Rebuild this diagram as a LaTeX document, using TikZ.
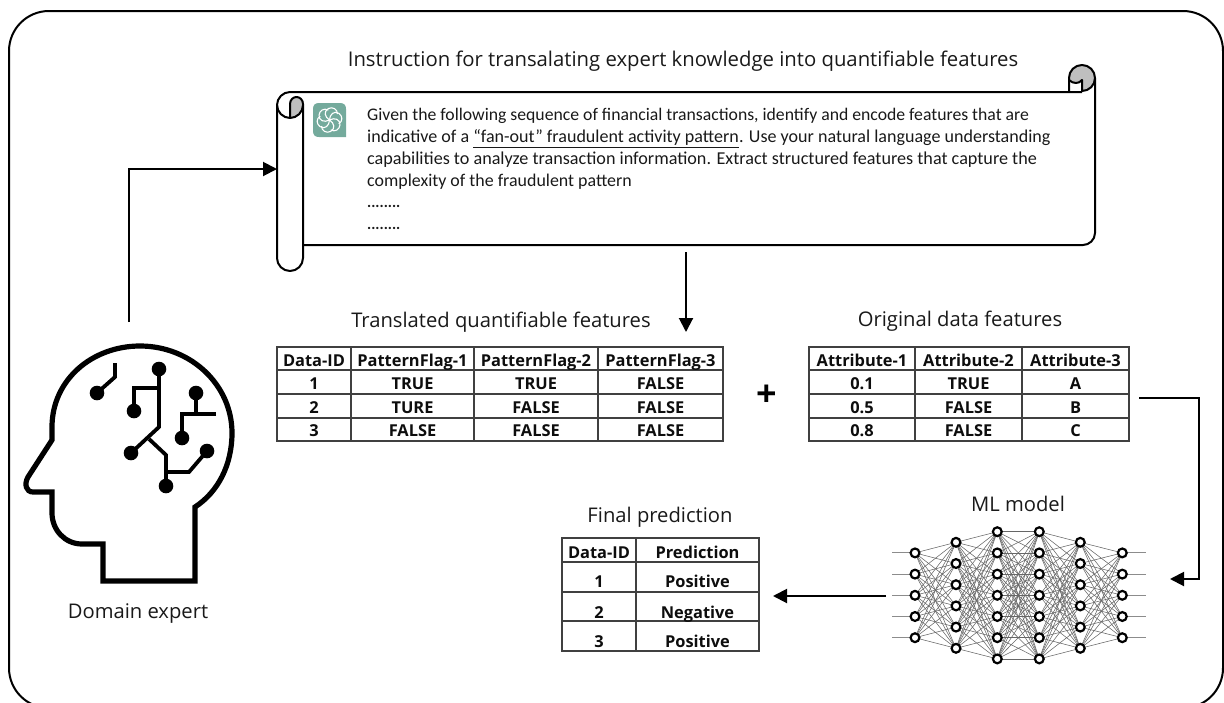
\documentclass[tikz,border=0pt]{standalone}
\usepackage{fontspec}
\setmainfont{Carlito}
\newfontfamily\labfont{Open Sans}
\usetikzlibrary{arrows.meta,backgrounds}
\definecolor{gptgreen}{HTML}{74AA9C}
\tikzset{
  x=1pt,y=-1pt,
  frameline/.style={draw=black,line width=2pt},
  scrollline/.style={draw=black,line width=2pt,line join=round},
  conn/.style={draw=black,line width=2pt,-{Triangle[length=14pt,width=14pt]}},
  heading/.style={anchor=base,inner sep=0pt,font=\labfont\fontsize{20.2}{22}\selectfont,text=black!90},
  title/.style={anchor=base,inner sep=0pt,font=\labfont\fontsize{20.3}{22}\selectfont,text=black!90},
  body/.style={anchor=base west,inner sep=0pt,font=\fontsize{17.7}{20}\selectfont,text=black!90},
  tc/.style={anchor=base,inner sep=0pt,font=\labfont\bfseries\fontsize{16.4}{18}\selectfont,text=black!95},
  grid/.style={draw=black!75,line width=1.5pt},
  headline/.style={draw=black,line width=5.2pt,line join=miter},
  circuit/.style={draw=black,line width=3.8pt,line join=miter},
  nn/.style={circle,draw=black,fill=white,line width=2.2pt,minimum size=8.8pt,inner sep=0pt},
  nnedge/.style={draw=black!60,line width=0.55pt},
}
\begin{document}
\begin{tikzpicture}
\useasboundingbox (0,0) rectangle (1224,702);
\clip (0,0) rectangle (1224,702);
% outer frame
\draw[frameline,rounded corners=40pt] (9,11) rectangle (1223,708);

% scroll
\path[fill=black!25] (1069,78) .. controls (1069,70.8) and (1074.8,65) .. (1082,65)
  .. controls (1089.2,65) and (1095,70.8) .. (1095,78)
  .. controls (1095,85.2) and (1089.2,91) .. (1082,91) -- (1082,80)
  .. controls (1079,84) and (1073,84) .. (1069,78) -- cycle;
\path[fill=black!25] (290,117) -- (290,104) .. controls (290,100) and (293,97) .. (296.5,97)
  .. controls (300,97) and (303,100) .. (303,104) -- (303,105)
  .. controls (303,112) and (297,118) .. (290,118) -- cycle;
\draw[scrollline] (277,105) .. controls (277,98) and (283,92) .. (290,92) -- (1082,92);
\draw[scrollline] (1069,92) -- (1069,78) .. controls (1069,70.8) and (1074.8,65) .. (1082,65)
  .. controls (1089.2,65) and (1095,70.8) .. (1095,78) -- (1095,233)
  .. controls (1095,240) and (1089,245) .. (1083,245) -- (303,245);
\draw[scrollline] (1095,78) .. controls (1095,85.2) and (1089.2,91) .. (1082,91) -- (1082,80)
  .. controls (1079,84) and (1073,84) .. (1069,80);
\draw[scrollline] (277,105) -- (277,258) .. controls (277,265.2) and (282.8,271) .. (290,271)
  .. controls (297.2,271) and (303,265.2) .. (303,258) -- (303,104)
  .. controls (303,100) and (300,97) .. (296.5,97) .. controls (293,97) and (290,100) .. (290,104) -- (290,117);
\draw[scrollline] (277,105) .. controls (277,112) and (283,118) .. (290,118)
  .. controls (297,118) and (303,112) .. (303,105);

% icon
\path[fill=gptgreen] (319,103) -- (340,103) .. controls (344,103) and (346,105) .. (346,109)
  -- (346,137) -- (319,137) .. controls (315,137) and (313,135) .. (313,131)
  -- (313,109) .. controls (313,105) and (315,103) .. (319,103) -- cycle;
\foreach \a in {0,60,...,300}
  \draw[white,line width=1.1pt,shift={(329.5,120)},rotate=\a]
    (0,0) .. controls (-5,-3) and (-6,-9) .. (-1,-11.5)
    .. controls (3,-13.5) and (8,-11) .. (8,-6);

% texts
\node[title] (titletext) at (683,66.5) {Instruction for transalating expert knowledge into quantifiable features};
\node[body] (l1) at (367,120.5) {Given the following sequence of financial transactions, identify and encode features that are};
\node[body,font=\fontsize{18.05}{20}\selectfont] (l2) at (367,142.5) {indicative of a \underline{“fan-out” fraudulent activity pattern}. Use your natural language understanding};
\node[body,font=\fontsize{18.15}{20}\selectfont] (l3) at (367,164.5) {capabilities to analyze transaction information. Extract structured features that capture the};
\node[body,font=\fontsize{17.9}{20}\selectfont] (l4) at (367,186.5) {complexity of the fraudulent pattern};
\node[body,font=\fontsize{15.5}{20}\selectfont] (l5) at (367,207) {\textbf{........}};
\node[body,font=\fontsize{15.5}{20}\selectfont] (l6) at (367,229) {\textbf{........}};

\node[heading] (h1) at (501,327.5) {Translated quantifiable features};
\node[heading] (h2) at (960,326.5) {Original data features};
\node[heading] (h3) at (660,522.5) {Final prediction};
\node[heading] (h4) at (1018,511.5) {ML model};
\node[heading] (h5) at (138,618.5) {Domain expert};
\node[anchor=center,inner sep=0pt,font=\labfont\bfseries\fontsize{36}{36}\selectfont] (plus) at (767,396) {+};

% table 1
\draw[grid] (277,347) rectangle (723,441);
\draw[grid] (351,347) -- (351,441) (474,347) -- (474,441) (598,347) -- (598,441)
  (277,370) -- (723,370) (277,394) -- (723,394) (277,418) -- (723,418);
\foreach \n/\x/\y/\t in {
  a/314/366.5/Data-ID, b/412.5/366.5/PatternFlag-1, c/536/366.5/PatternFlag-2, d/660.5/366.5/PatternFlag-3,
  e/314/389.5/1, f/412.5/389.5/TRUE, g/536/389.5/TRUE, h/660.5/389.5/FALSE,
  i/314/413.5/2, j/412.5/413.5/TURE, k/536/413.5/FALSE, l/660.5/413.5/FALSE,
  m/314/436.5/3, n/412.5/436.5/FALSE, o/536/436.5/FALSE, p/660.5/436.5/FALSE}
  \node[tc] (ta\n) at (\x,\y) {\t};

% table 2
\draw[grid] (809,347) rectangle (1129,441);
\draw[grid] (915,347) -- (915,441) (1022,347) -- (1022,441)
  (809,370) -- (1129,370) (809,394) -- (1129,394) (809,418) -- (1129,418);
\foreach \n/\x/\y/\t in {
  a/862/366.5/Attribute-1, b/968.5/366.5/Attribute-2, c/1075.5/366.5/Attribute-3,
  d/862/389.5/0.1, e/968.5/389.5/TRUE, f/1075.5/389.5/A,
  g/862/413.5/0.5, h/968.5/413.5/FALSE, i/1075.5/413.5/B,
  j/862/436.5/0.8, k/968.5/436.5/FALSE, l/1075.5/436.5/C}
  \node[tc] (tb\n) at (\x,\y) {\t};

% table 3
\draw[grid] (562,538) rectangle (759,651);
\draw[grid] (636,538) -- (636,651)
  (562,562) -- (759,562) (562,592) -- (759,592) (562,621) -- (759,621);
\foreach \n/\x/\y/\t in {
  a/599/558.5/Data-ID, b/697.5/558.5/Prediction,
  c/599/587.5/1, d/697.5/587.5/Positive,
  e/599/618/2, f/697.5/618/Negative,
  g/599/647.5/3, h/697.5/647.5/Positive}
  \node[tc] (tc\n) at (\x,\y) {\t};

% head
\draw[headline] (195,507) -- (195,581) -- (103,581) -- (103,544) -- (82,544)
  .. controls (65,544) and (52,530) .. (52,513) -- (52,492) -- (33,492)
  .. controls (26,492) and (24,484) .. (28,477) -- (52,440) -- (52,427)
  .. controls (52,380) and (92,346) .. (140,346)
  .. controls (191,346) and (232,385) .. (232,433)
  .. controls (232,465) and (218,492) .. (195,507) -- cycle;
\draw[circuit] (115,363) -- (115,377) -- (97,393);
\draw[circuit] (159,369) -- (159,427) -- (131,453);
\draw[circuit] (159,388) -- (134,388) -- (134,411);
\draw[circuit] (149,439) -- (166,455) -- (166,486);
\draw[circuit] (166,472) -- (189,472) -- (207,451);
\draw[circuit] (196,393) -- (196,414);
\draw[circuit] (216,414) -- (182,414) -- (182,438);
\foreach \x/\y in {97/393,159/369,134/411,131/453,166/486,207/451,196/393,182/438}
  \fill (\x,\y) circle[radius=7.3];

% neural network
\foreach \l/\x/\c in {1/915/5,2/956/6,3/997.3/7,4/1039.3/7,5/1080.3/6,6/1122.3/5}
  \foreach \i in {1,...,\c}
    \node[nn] (n\l-\i) at (\x,{595.3+(\i-(\c+1)/2)*21.2}) {};
\begin{scope}[on background layer]
\foreach \la/\ca/\lb/\cb in {1/5/2/6,2/6/3/7,3/7/4/7,4/7/5/6,5/6/6/5}
  \foreach \i in {1,...,\ca}
    \foreach \j in {1,...,\cb}
      \draw[nnedge] (n\la-\i.center) -- (n\lb-\j.center);
\foreach \i in {1,...,5} {
  \coordinate (in\i) at (892,{595.3+(\i-3)*21.2});
  \coordinate (out\i) at (1146,{595.3+(\i-3)*21.2});
  \draw[draw=black!45,line width=0.9pt] (in\i) -- (n1-\i.center);
  \draw[draw=black!45,line width=0.9pt] (n6-\i.center) -- (out\i);
}
\end{scope}

% connectors
\coordinate (expertTop) at (129,322);
\coordinate (scrollIn) at (277,169);
\coordinate (scrollBelow) at (686,252);
\coordinate (tableAbove) at (686,332);
\coordinate (origOut) at (1139,398);
\coordinate (mlIn) at (1170,579);
\coordinate (mlOut) at (886,596);
\coordinate (finalIn) at (773,596);
\draw[conn] (expertTop) |- (scrollIn);
\draw[conn] (scrollBelow) -- (tableAbove);
\draw[conn] (origOut) -- (1199,398) -- (1199,579) -- (mlIn);
\draw[conn] (mlOut) -- (finalIn);
\end{tikzpicture}
\end{document}
